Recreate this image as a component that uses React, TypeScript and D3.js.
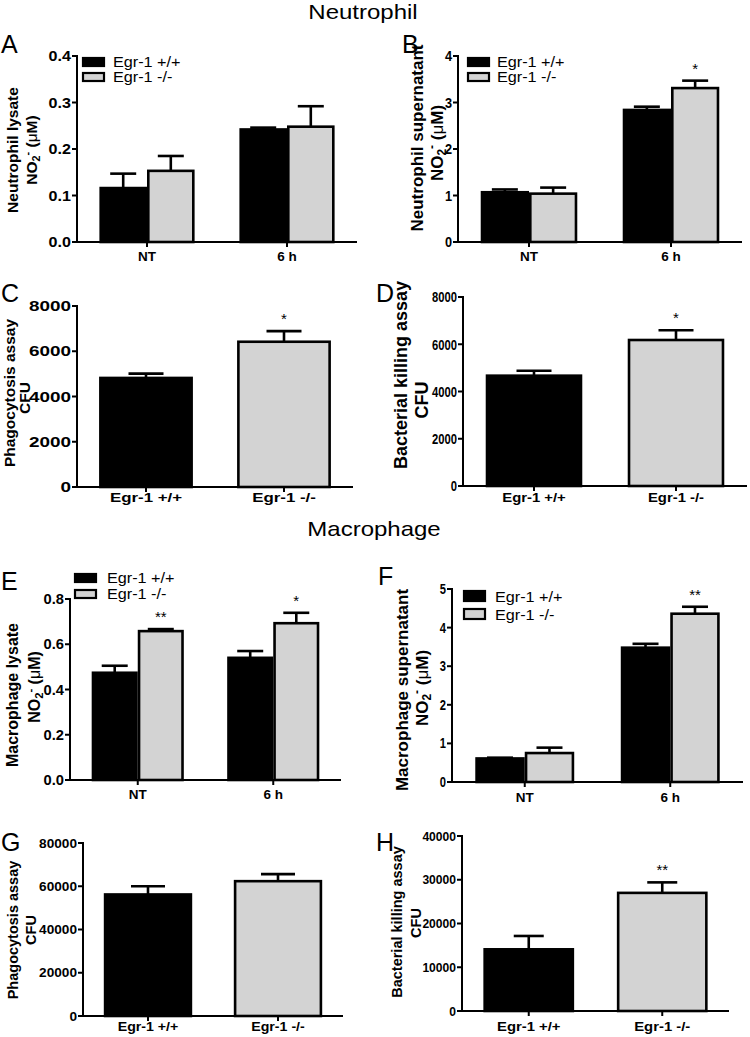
import React from "react";
import * as d3 from "d3";

// ---------- data ----------
const timeCategories = ["NT", "6 h"];
const genotypeCategories = ["Egr-1 +/+", "Egr-1 -/-"];
const seriesNames = ["Egr-1 +/+", "Egr-1 -/-"];

// A: Neutrophil lysate NO2- (uM)
const neutLysateWT = [0.116, 0.242];
const neutLysateWTErr = [0.031, 0.004];
const neutLysateKO = [0.153, 0.248];
const neutLysateKOErr = [0.032, 0.044];
const neutLysateSig = ["", ""];
const neutLysateTicks = [0, 0.1, 0.2, 0.3, 0.4];

// B: Neutrophil supernatant NO2- (uM)
const neutSupWT = [1.07, 2.84];
const neutSupWTErr = [0.06, 0.07];
const neutSupKO = [1.04, 3.31];
const neutSupKOErr = [0.13, 0.16];
const neutSupSig = ["", "*"];
const neutSupTicks = [0, 1, 2, 3, 4];

// C: Neutrophil phagocytosis assay CFU
const neutPhago = [4820, 6420];
const neutPhagoErr = [190, 470];
const neutPhagoSig = ["", "*"];
const neutPhagoTicks = [0, 2000, 4000, 6000, 8000];

// D: Neutrophil bacterial killing assay CFU
const neutKill = [4670, 6180];
const neutKillErr = [210, 410];
const neutKillSig = ["", "*"];
const neutKillTicks = [0, 2000, 4000, 6000, 8000];

// E: Macrophage lysate NO2- (uM)
const macLysateWT = [0.474, 0.54];
const macLysateWTErr = [0.031, 0.03];
const macLysateKO = [0.658, 0.693];
const macLysateKOErr = [0.009, 0.046];
const macLysateSig = ["**", "*"];
const macLysateTicks = [0, 0.2, 0.4, 0.6, 0.8];

// F: Macrophage supernatant NO2- (uM)
const macSupWT = [0.61, 3.48];
const macSupWTErr = [0.02, 0.1];
const macSupKO = [0.75, 4.36];
const macSupKOErr = [0.14, 0.18];
const macSupSig = ["", "**"];
const macSupTicks = [0, 1, 2, 3, 4, 5];

// G: Macrophage phagocytosis assay CFU
const macPhago = [56200, 62350];
const macPhagoErr = [3800, 3250];
const macPhagoSig = ["", ""];
const macPhagoTicks = [0, 20000, 40000, 60000, 80000];

// H: Macrophage bacterial killing assay CFU
const macKill = [14100, 27000];
const macKillErr = [3050, 2400];
const macKillSig = ["", "**"];
const macKillTicks = [0, 10000, 20000, 30000, 40000];

// ---------- styles ----------
const FONT = "'Liberation Sans', Arial, Helvetica, sans-serif";
const BLACK = "#000000";
const GREY = "#d3d3d3";
const COLORS = [BLACK, GREY];

type Bar = { cat: string; sub: string; value: number; err: number; sig: string; fill: string };

type Layout = {
  letter: string;
  letterX: number;
  letterY: number;
  axisX: number;
  xEnd: number;
  yTop: number;
  yBottom: number;
  labX1: number;
  labX2: number;
  labY1: number;
  labY2: number;
  labSize: number;
  capW: number;
  xLabelDy: number;
  tickSize: number;
  tickSx: number;
  xlSx: number;
  legend?: { x: number; y: number; w: number; h: number; step: number; tx: number };
};

function HText(props: {
  x: number;
  y: number;
  anchor?: string;
  size: number;
  weight?: string | number;
  sx?: number;
  children: React.ReactNode;
}) {
  const { x, y, anchor = "start", size, weight = "normal", sx = 1, children } = props;
  return (
    <text
      transform={`translate(${x},${y}) scale(${sx},1)`}
      textAnchor={anchor}
      fontSize={size}
      fontWeight={weight}
      fontFamily={FONT}
      fill={BLACK}
    >
      {children}
    </text>
  );
}

function grouped(wt: number[], wtErr: number[], ko: number[], koErr: number[], sig: string[]): Bar[] {
  const out: Bar[] = [];
  timeCategories.forEach((c, i) => {
    out.push({ cat: c, sub: seriesNames[0], value: wt[i], err: wtErr[i], sig: "", fill: COLORS[0] });
    out.push({ cat: c, sub: seriesNames[1], value: ko[i], err: koErr[i], sig: sig[i], fill: COLORS[1] });
  });
  return out;
}

function single(v: number[], e: number[], sig: string[]): Bar[] {
  return genotypeCategories.map((c, i) => ({ cat: c, sub: c, value: v[i], err: e[i], sig: sig[i], fill: COLORS[i] }));
}

function Panel(props: {
  L: Layout;
  categories: string[];
  isGrouped: boolean;
  bars: Bar[];
  ticks: number[];
  fmt: (n: number) => string;
  label1: string;
  label2: "NO2" | "CFU";
}) {
  const { L, categories, isGrouped, bars, ticks, fmt, label1, label2 } = props;
  const yMax = ticks[ticks.length - 1];
  const y = d3.scaleLinear().domain([0, yMax]).range([L.yBottom, L.yTop]);
  const x0 = d3.scaleBand<string>().domain(categories).range([L.axisX, L.xEnd]).paddingInner(0.32).paddingOuter(0.16);
  const x1 = d3.scaleBand<string>().domain(seriesNames).range([0, x0.bandwidth()]).padding(0);

  const barX = (b: Bar) => (isGrouped ? (x0(b.cat) as number) + (x1(b.sub) as number) : (x0(b.cat) as number));
  const barW = isGrouped ? x1.bandwidth() : x0.bandwidth();
  const sw = 2.6;

  return (
    <g>
      <text x={L.letterX} y={L.letterY} fontSize={25} fontFamily={FONT} fill={BLACK}>
        {L.letter}
      </text>
      {bars.map((b, i) => (
        <rect
          key={"b" + i}
          x={barX(b) + sw / 2}
          y={y(b.value)}
          width={barW - sw}
          height={L.yBottom - y(b.value)}
          fill={b.fill}
          stroke={BLACK}
          strokeWidth={sw}
        />
      ))}
      {bars.map((b, i) => {
        const cx = barX(b) + barW / 2;
        const yv = y(b.value);
        const ye = y(b.value + b.err);
        return (
          <g key={"e" + i} stroke={BLACK} strokeWidth={2.6}>
            <line x1={cx} x2={cx} y1={yv} y2={ye} />
            <line x1={cx - L.capW / 2} x2={cx + L.capW / 2} y1={ye} y2={ye} />
          </g>
        );
      })}
      {bars
        .filter((b) => b.sig)
        .map((b, i) => (
          <HText key={"s" + i} x={barX(b) + barW / 2} y={y(b.value + b.err) - 7} anchor="middle" size={15}>
            {b.sig}
          </HText>
        ))}
      <line x1={L.axisX} x2={L.axisX} y1={L.yTop - 1} y2={L.yBottom + 1} stroke={BLACK} strokeWidth={2} />
      {ticks.map((t) => (
        <g key={"t" + t}>
          <line x1={L.axisX - 5} x2={L.axisX} y1={y(t)} y2={y(t)} stroke={BLACK} strokeWidth={2} />
          <HText x={L.axisX - 6} y={y(t) + L.tickSize * 0.36} anchor="end" size={L.tickSize} weight="bold" sx={L.tickSx}>
            {fmt(t)}
          </HText>
        </g>
      ))}
      <line x1={L.axisX - 1} x2={L.xEnd} y1={L.yBottom} y2={L.yBottom} stroke={BLACK} strokeWidth={2} />
      {categories.map((c) => {
        const cx = (x0(c) as number) + x0.bandwidth() / 2;
        return (
          <g key={"x" + c}>
            <line x1={cx} x2={cx} y1={L.yBottom} y2={L.yBottom + 5} stroke={BLACK} strokeWidth={2} />
            <HText x={cx} y={L.yBottom + L.xLabelDy} anchor="middle" size={13.5} weight="bold" sx={L.xlSx}>
              {c}
            </HText>
          </g>
        );
      })}
      <text
        transform={`translate(${L.labX1},${L.labY1}) rotate(-90)`}
        dy="0.3em"
        textAnchor="middle"
        fontSize={L.labSize}
        fontWeight="bold"
        fontFamily={FONT}
        fill={BLACK}
      >
        {label1}
      </text>
      <text
        transform={`translate(${L.labX2},${L.labY2}) rotate(-90)`}
        dy="0.3em"
        textAnchor="middle"
        fontSize={L.labSize}
        fontWeight="bold"
        fontFamily={FONT}
        fill={BLACK}
      >
        {label2 === "CFU" ? (
          "CFU"
        ) : (
          <>
            NO
            <tspan fontSize="70%" baselineShift="-25%">
              2
            </tspan>
            <tspan fontSize="70%" baselineShift="55%">
              -
            </tspan>
            <tspan> (</tspan>
            <tspan fontWeight="normal">μ</tspan>
            <tspan>M)</tspan>
          </>
        )}
      </text>
      {L.legend &&
        seriesNames.map((s, i) => (
          <g key={"l" + s}>
            <rect
              x={L.legend!.x + 1}
              y={L.legend!.y + i * L.legend!.step + 1}
              width={L.legend!.w - 2}
              height={L.legend!.h - 2}
              fill={COLORS[i]}
              stroke={BLACK}
              strokeWidth={2.2}
            />
            <HText x={L.legend!.tx} y={L.legend!.y + i * L.legend!.step + L.legend!.h} size={15} sx={1.08}>
              {s}
            </HText>
          </g>
        ))}
    </g>
  );
}

const f1 = d3.format(".1f");
const f0 = d3.format("d");

const layouts: Record<string, Layout> = {
  A: { letter: "A", letterX: 1, letterY: 53, axisX: 77, xEnd: 357, yTop: 56, yBottom: 242, labX1: 13, labX2: 32, labY1: 150, labY2: 150, labSize: 15.5, capW: 26, xLabelDy: 19, tickSize: 14, tickSx: 1.15, xlSx: 1, legend: { x: 82, y: 57, w: 23, h: 10, step: 15, tx: 113 } },
  B: { letter: "B", letterX: 402, letterY: 53, axisX: 458, xEnd: 742, yTop: 56, yBottom: 242, labX1: 418, labX2: 438, labY1: 138, labY2: 143, labSize: 17, capW: 26, xLabelDy: 19, tickSize: 15, tickSx: 0.85, xlSx: 1, legend: { x: 467, y: 57, w: 23, h: 10, step: 15, tx: 497 } },
  C: { letter: "C", letterX: 1, letterY: 302, axisX: 77, xEnd: 353, yTop: 306, yBottom: 487, labX1: 10, labX2: 25, labY1: 393, labY2: 398, labSize: 15.5, capW: 35, xLabelDy: 15, tickSize: 14, tickSx: 1.35, xlSx: 1.25 },
  D: { letter: "D", letterX: 376, letterY: 302, axisX: 463, xEnd: 747, yTop: 297, yBottom: 486, labX1: 402, labX2: 423, labY1: 375, labY2: 400, labSize: 18, capW: 35, xLabelDy: 16, tickSize: 15, tickSx: 0.75, xlSx: 1.1 },
  E: { letter: "E", letterX: 1, letterY: 590, axisX: 70, xEnd: 341, yTop: 599, yBottom: 780, labX1: 13, labX2: 35, labY1: 695, labY2: 687, labSize: 16, capW: 26, xLabelDy: 19, tickSize: 14, tickSx: 1.05, xlSx: 1, legend: { x: 74, y: 573, w: 23, h: 10, step: 16, tx: 107 } },
  F: { letter: "F", letterX: 378, letterY: 585, axisX: 452, xEnd: 743, yTop: 589, yBottom: 782, labX1: 403, labX2: 423, labY1: 690, labY2: 688, labSize: 17, capW: 26, xLabelDy: 20, tickSize: 14, tickSx: 0.8, xlSx: 1, legend: { x: 463, y: 590, w: 23, h: 12, step: 18, tx: 495 } },
  G: { letter: "G", letterX: 1, letterY: 851, axisX: 83, xEnd: 343, yTop: 843, yBottom: 1016, labX1: 14, labX2: 32, labY1: 930, labY2: 930, labSize: 14.5, capW: 34, xLabelDy: 15, tickSize: 13, tickSx: 1.05, xlSx: 1.05 },
  H: { letter: "H", letterX: 376, letterY: 851, axisX: 462, xEnd: 729, yTop: 836, yBottom: 1011, labX1: 398, labX2: 417, labY1: 922, labY2: 923, labSize: 14.5, capW: 30, xLabelDy: 20, tickSize: 13, tickSx: 0.93, xlSx: 1.1 },
};

export default function App() {
  return (
    <svg
      width={750}
      height={1037}
      viewBox="0 0 750 1037"
      style={{ position: "absolute", left: 0, top: 0, background: "#fff" }}
    >
      <rect x={0} y={0} width={750} height={1037} fill="#fff" />
      <HText x={363} y={19} anchor="middle" size={20} sx={1.2}>
        Neutrophil
      </HText>
      <HText x={374} y={536} anchor="middle" size={20} sx={1.2}>
        Macrophage
      </HText>

      <Panel L={layouts.A} categories={timeCategories} isGrouped bars={grouped(neutLysateWT, neutLysateWTErr, neutLysateKO, neutLysateKOErr, neutLysateSig)} ticks={neutLysateTicks} fmt={f1} label1="Neutrophil lysate" label2="NO2" />
      <Panel L={layouts.B} categories={timeCategories} isGrouped bars={grouped(neutSupWT, neutSupWTErr, neutSupKO, neutSupKOErr, neutSupSig)} ticks={neutSupTicks} fmt={f0} label1="Neutrophil supernatant" label2="NO2" />
      <Panel L={layouts.C} categories={genotypeCategories} isGrouped={false} bars={single(neutPhago, neutPhagoErr, neutPhagoSig)} ticks={neutPhagoTicks} fmt={f0} label1="Phagocytosis assay" label2="CFU" />
      <Panel L={layouts.D} categories={genotypeCategories} isGrouped={false} bars={single(neutKill, neutKillErr, neutKillSig)} ticks={neutKillTicks} fmt={f0} label1="Bacterial killing assay" label2="CFU" />
      <Panel L={layouts.E} categories={timeCategories} isGrouped bars={grouped(macLysateWT, macLysateWTErr, macLysateKO, macLysateKOErr, macLysateSig)} ticks={macLysateTicks} fmt={f1} label1="Macrophage lysate" label2="NO2" />
      <Panel L={layouts.F} categories={timeCategories} isGrouped bars={grouped(macSupWT, macSupWTErr, macSupKO, macSupKOErr, macSupSig)} ticks={macSupTicks} fmt={f0} label1="Macrophage supernatant" label2="NO2" />
      <Panel L={layouts.G} categories={genotypeCategories} isGrouped={false} bars={single(macPhago, macPhagoErr, macPhagoSig)} ticks={macPhagoTicks} fmt={f0} label1="Phagocytosis assay" label2="CFU" />
      <Panel L={layouts.H} categories={genotypeCategories} isGrouped={false} bars={single(macKill, macKillErr, macKillSig)} ticks={macKillTicks} fmt={f0} label1="Bacterial killing assay" label2="CFU" />
    </svg>
  );
}
